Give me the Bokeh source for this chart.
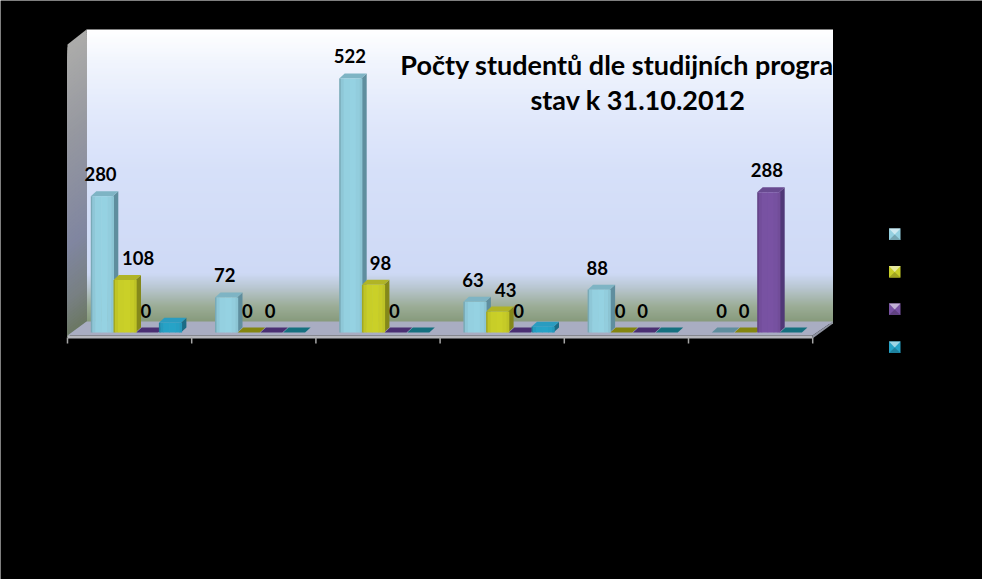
from bokeh.plotting import figure
from bokeh.embed import file_html
from bokeh.resources import INLINE
from bokeh.models import Range1d
from bokeh.core.properties import value

# ---- data ----
programmes = ["1", "2", "3", "4", "5", "6"]   # category names are black on black in the reference
series_1 = [280, 72, 522, 63, 88, 0]
series_2 = [108, 0, 98, 43, 0, 0]
series_3 = [0, 0, 0, 0, 0, 288]
series_4 = [20, 0, 0, 12, 0, 0]
title_lines = ["Počty studentů dle studijních programů", "stav k 31.10.2012"]

# ---- layout ----
W, H = 982, 579
PAGE = 0
CAT_W = 124.2
X0 = 67.0
Y0 = 332.0
PX_PER_UNIT = 0.4866
BAR_W = 22.7
BAR_PAD = 23.3
DX, DY = 5.5, 5.0


def xd(px):
    return (px - X0) / CAT_W


def yd(py):
    return (Y0 - py) / PX_PER_UNIT


def lerp_stops(stops, t):
    for (t0, c0), (t1, c1) in zip(stops, stops[1:]):
        if t0 <= t <= t1:
            f = (t - t0) / (t1 - t0) if t1 > t0 else 0
            return tuple(int(round(a + (b - a) * f)) for a, b in zip(c0, c1))
    return stops[-1][1]


def hexc(c):
    return "#%02x%02x%02x" % tuple(max(0, min(255, int(v))) for v in c)


def shade(c, k):
    return hexc(tuple(v * k for v in c))


p = figure(width=W, height=H, output_backend="svg", toolbar_location=None,
           x_range=Range1d(xd(PAGE), xd(PAGE + W)), y_range=Range1d(yd(PAGE + H), yd(PAGE)),
           x_axis_location=None, y_axis_location=None, min_border=0,
           background_fill_color="#000000", border_fill_color="#000000",
           outline_line_color=None)
p.grid.visible = False

# back wall gradient
WALL_STOPS = [(29, (255, 255, 255)), (60, (241, 245, 253)), (110, (226, 233, 251)),
              (170, (214, 224, 249)), (272, (206, 217, 245)), (285, (186, 200, 212)),
              (305, (155, 172, 150)), (323, (130, 150, 118))]
L_WALL, R_WALL = 86.0, 832.5
ys = list(range(29, 323, 2))
p.quad(left=[xd(L_WALL)] * len(ys), right=[xd(R_WALL)] * len(ys),
       top=[yd(y) for y in ys], bottom=[yd(y + 2.5) for y in ys],
       fill_color=[hexc(lerp_stops(WALL_STOPS, y)) for y in ys], line_color=None)

# left wall: painted top to bottom, each band reaching to the floor so no seams show
SIDE_STOPS = [(29, (172, 172, 170)), (120, (150, 152, 160)), (230, (128, 134, 160)),
              (285, (120, 128, 130)), (323, (105, 118, 95))]
xs_w, ys_w, cs_w = [], [], []
for y in range(29, 322, 3):
    xs_w.append([xd(67), xd(L_WALL), xd(L_WALL), xd(67)])
    ys_w.append([yd(y + 15), yd(y), yd(322), yd(336)])
    cs_w.append(hexc(lerp_stops(SIDE_STOPS, y)))
p.patches(xs_w, ys_w, fill_color=cs_w, line_color=None)

# floor
p.patch([xd(67), xd(L_WALL), xd(R_WALL), xd(812)],
        [yd(335), yd(321), yd(321), yd(335)], fill_color="#a9adc2", line_color=None)
p.quad(left=[xd(67)], right=[xd(812)], top=[yd(335)], bottom=[yd(338)],
       fill_color="#b6b7bd", line_color=None)
p.patch([xd(812), xd(R_WALL), xd(R_WALL), xd(812)],
        [yd(335), yd(321), yd(323), yd(338)], fill_color="#8f93a0", line_color=None)

# category ticks
tick_x = list(range(len(programmes) + 1))
p.segment(x0=tick_x, x1=tick_x, y0=[yd(337)] * len(tick_x), y1=[yd(343)] * len(tick_x),
          line_color="#a6a6a6", line_width=1.5)

# bars
SERIES = [series_1, series_2, series_3, series_4]
FRONT = [(148, 208, 224), (200, 206, 40), (120, 82, 162), (38, 162, 198)]
SIDE = ["#5f8e9e", "#84881a", "#503877", "#1b6b85"]
TOP = ["#7eb4c4", "#b0b426", "#684a90", "#2a9cc0"]
FLAT = ["#5f8e9e", "#84860f", "#4a2f72", "#15707f"]
STRIP_K = [0.82, 0.96, 1.0, 1.01, 0.99, 0.95]
STRIP_W = [1.5, 3, 6, 6, 4, 2.2]

sx, sy, sc, tx, ty, tc = [], [], [], [], [], []
fl, fr, ft, fc = [], [], [], []
for j, vals in enumerate(SERIES):
    for i, v in enumerate(vals):
        pad = (BAR_PAD + BAR_W * j) / CAT_W
        x0 = i + pad
        x1 = x0 + (BAR_W - 0.7) / CAT_W
        d = DX / CAT_W
        e = DY / PX_PER_UNIT
        tx.append([x0, x0 + d, x1 + d, x1])
        ty.append([v, v + e, v + e, v])
        tc.append(TOP[j] if v > 0 else FLAT[j])
        if v > 0:
            sx.append([x1, x1 + d, x1 + d, x1])
            sy.append([0, e, v + e, v])
            sc.append(SIDE[j])
            left = x0
            for k, w in zip(STRIP_K, STRIP_W):
                fl.append(left)
                fr.append(left + w / CAT_W + 0.004)
                ft.append(v)
                fc.append(shade(FRONT[j], k))
                left += w / CAT_W

p.patches(sx, sy, fill_color=sc, line_color=None)
p.patches(tx, ty, fill_color=tc, line_color=None)
p.quad(left=fl, right=fr, top=ft, bottom=[0] * len(fl), fill_color=fc, line_color=None)

# value labels (series 4 has none in the reference)
NUDGE = [[-2, -2, -1, -2, -2, -2], [13, -2, 7, 8, -2, -2], [-2, -2, -2, -2, -2, -2]]
lx, ly, lt, lo = [], [], [], []
for j, vals in enumerate(SERIES[:3]):
    for i, v in enumerate(vals):
        lx.append(i + (BAR_PAD + 0.7 + BAR_W * j + 11) / CAT_W)
        ly.append(v)
        lt.append(str(v))
        lo.append(NUDGE[j][i])
p.text(x=lx, y=ly, text=lt, x_offset=lo, y_offset=[-22] * len(lx),
       text_align="center", text_baseline="middle", text_color="#000000",
       text_font=value("Lato"), text_font_style="bold", text_font_size="18.5px")

# title
p.text(x=[xd(635.5), xd(637.5)], y=[yd(64), yd(99)], text=title_lines,
       text_align="center", text_baseline="middle", text_color="#000000",
       text_font=value("Lato"), text_font_style="bold", text_font_size="27px")

# legend keys
KEY_Y = [228, 265.5, 303, 341]
for c, y in zip(FRONT, KEY_Y):
    x0, x1 = xd(888.5), xd(900)
    y0, y1 = yd(y), yd(y + 11.5)
    xm, ym = xd(894.2), yd(y + 6)
    p.quad(left=[x0], right=[x1], top=[y0], bottom=[y1], fill_color=hexc(c), line_color=None)
    p.patch([x0, x1, xm], [y0, y0, ym], fill_color=shade(tuple(v + (255 - v) * 0.55 for v in c), 1),
            line_color=None)
    p.patch([x0, x1, xm], [y1, y1, ym], fill_color=shade(c, 0.8), line_color=None)

open("out.html", "w").write(file_html(p, INLINE))
